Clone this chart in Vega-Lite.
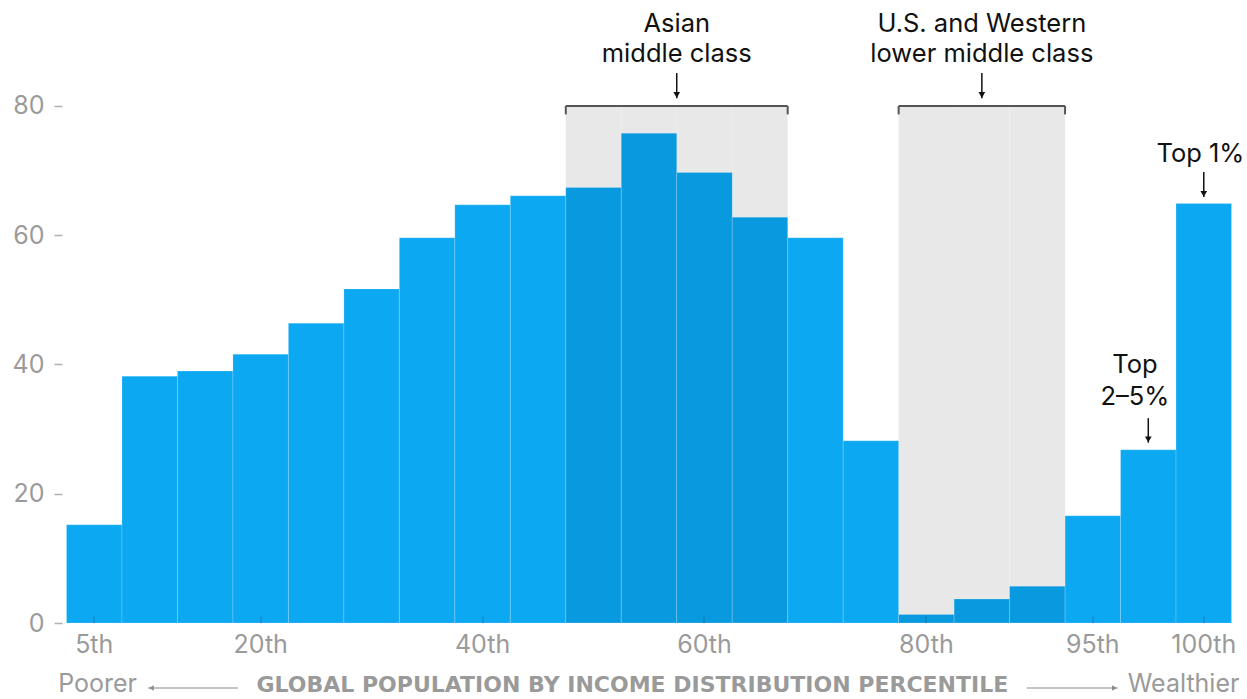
{
  "$schema": "https://vega.github.io/schema/vega-lite/v6.json",
  "width": 1165,
  "height": 623,
  "autosize": "none",
  "padding": {"left": 66.5, "top": 0, "right": 15.5, "bottom": 76},
  "config": {"view": {"stroke": null}, "font": "Inter"},
  "datasets": {
    "bars": [
      {"pct": "5", "share": 15.2, "group": "other"},
      {"pct": "10", "share": 38.2, "group": "other"},
      {"pct": "15", "share": 39.0, "group": "other"},
      {"pct": "20", "share": 41.6, "group": "other"},
      {"pct": "25", "share": 46.4, "group": "other"},
      {"pct": "30", "share": 51.7, "group": "other"},
      {"pct": "35", "share": 59.6, "group": "other"},
      {"pct": "40", "share": 64.7, "group": "other"},
      {"pct": "45", "share": 66.1, "group": "other"},
      {"pct": "50", "share": 67.4, "group": "asian"},
      {"pct": "55", "share": 75.8, "group": "asian"},
      {"pct": "60", "share": 69.7, "group": "asian"},
      {"pct": "65", "share": 62.8, "group": "asian"},
      {"pct": "70", "share": 59.6, "group": "other"},
      {"pct": "75", "share": 28.2, "group": "other"},
      {"pct": "80", "share": 1.3, "group": "western"},
      {"pct": "85", "share": 3.7, "group": "western"},
      {"pct": "90", "share": 5.7, "group": "western"},
      {"pct": "95", "share": 16.6, "group": "other"},
      {"pct": "99", "share": 26.8, "group": "other"},
      {"pct": "100", "share": 64.9, "group": "other"}
    ],
    "notes": [
      {"kind": "bracket", "p": 9.5, "p2": 13.5, "y": 80, "y2": 80},
      {"kind": "bracket", "p": 9.5, "p2": 9.5, "y": 80, "y2": 78.7},
      {"kind": "bracket", "p": 13.5, "p2": 13.5, "y": 80, "y2": 78.7},
      {"kind": "bracket", "p": 15.5, "p2": 18.5, "y": 80, "y2": 80},
      {"kind": "bracket", "p": 15.5, "p2": 15.5, "y": 80, "y2": 78.7},
      {"kind": "bracket", "p": 18.5, "p2": 18.5, "y": 80, "y2": 78.7},
      {"kind": "arrow", "p": 11.5, "p2": 11.5, "y": 85.1, "y2": 81.2},
      {"kind": "arrow", "p": 17, "p2": 17, "y": 85.1, "y2": 81.2},
      {"kind": "arrow", "p": 21, "p2": 21, "y": 69.8, "y2": 65.9},
      {"kind": "arrow", "p": 20, "p2": 20, "y": 31.7, "y2": 27.9},
      {"kind": "axisarrow", "p": 1.97, "p2": 3.59, "y": -10.06, "y2": -10.06},
      {"kind": "axisarrow", "p": 17.81, "p2": 19.45, "y": -10.06, "y2": -10.06},
      {"kind": "head", "dir": "down", "p": 11.5, "y": 81.7},
      {"kind": "head", "dir": "down", "p": 17, "y": 81.7},
      {"kind": "head", "dir": "down", "p": 21, "y": 66.4},
      {"kind": "head", "dir": "down", "p": 20, "y": 28.4},
      {"kind": "axishead", "dir": "left", "p": 2.03, "y": -10.06},
      {"kind": "axishead", "dir": "right", "p": 19.39, "y": -10.06},
      {"kind": "label", "p": 11.5, "y": 91.45, "text": "Asian"},
      {"kind": "label", "p": 11.5, "y": 86.8, "text": "middle class"},
      {"kind": "label", "p": 17, "y": 91.45, "text": "U.S. and Western"},
      {"kind": "label", "p": 17, "y": 86.8, "text": "lower middle class"},
      {"kind": "label", "p": 20.94, "y": 71.3, "text": "Top 1%"},
      {"kind": "label", "p": 19.76, "y": 38.7, "text": "Top"},
      {"kind": "label", "p": 19.76, "y": 33.7, "text": "2–5%"},
      {"kind": "side", "p": 0.35, "y": -10.75, "text": "Poorer"},
      {"kind": "side", "p": 19.63, "y": -10.75, "text": "Wealthier"},
      {"kind": "title", "p": 10.7, "y": -10.75, "text": "GLOBAL POPULATION BY INCOME DISTRIBUTION PERCENTILE"}
    ]
  },
  "layer": [
    {
      "data": {"name": "bars"},
      "encoding": {
        "x": {
          "field": "pct",
          "type": "ordinal",
          "sort": null,
          "scale": {
            "domain": ["5","10","15","20","25","30","35","40","45","50","55","60","65","70","75","80","85","90","95","99","100"],
            "paddingInner": 0,
            "paddingOuter": 0
          },
          "axis": {
            "values": ["5","20","40","60","80","95","100"],
            "labelExpr": "datum.label + 'th'",
            "labelAngle": 0,
            "domain": false,
            "tickSize": -7,
            "tickColor": "#1f4f70",
            "tickOpacity": 0.45,
            "tickWidth": 1,
            "labelPadding": 16,
            "labelFontSize": 25,
            "labelColor": "#9a9a9a",
            "labelFont": "Inter",
            "title": null,
            "zindex": 1
          }
        }
      },
      "layer": [
        {
          "transform": [{"filter": "datum.group != 'other'"}],
          "mark": {"type": "bar", "color": "#e8e8e8"},
          "encoding": {
            "y": {"datum": 80, "type": "quantitative"}
          }
        },
        {
          "mark": {"type": "bar", "stroke": "#ffffff", "strokeOpacity": 0.18, "strokeWidth": 1},
          "encoding": {
            "y": {
              "field": "share",
              "type": "quantitative",
              "scale": {"domain": [0, 96.4], "nice": false, "zero": false},
              "axis": {
                "values": [0, 20, 40, 60, 80],
                "domain": false,
                "grid": false,
                "tickColor": "#b0b0b0",
                "tickSize": 8,
                "tickWidth": 1.5,
                "offset": 4.5,
                "labelPadding": 10,
                "labelFontSize": 25,
                "labelColor": "#9a9a9a",
                "labelFont": "Inter",
                "title": null
              }
            },
            "color": {
              "field": "group",
              "type": "nominal",
              "scale": {"domain": ["other", "asian", "western"], "range": ["#0ca8f2", "#0899df", "#0899df"]},
              "legend": null
            }
          }
        }
      ]
    },
    {
      "data": {"name": "notes"},
      "encoding": {
        "x": {"field": "p", "type": "quantitative", "scale": {"domain": [0.5, 21.5], "nice": false, "zero": false}, "axis": null}
      },
      "layer": [
        {
          "transform": [{"filter": "datum.kind == 'bracket'"}],
          "mark": {"type": "rule", "color": "#555555", "strokeWidth": 2},
          "encoding": {
            "x2": {"field": "p2"},
            "y": {"field": "y", "type": "quantitative", "axis": {"title": null}},
            "y2": {"field": "y2"}
          }
        },
        {
          "transform": [{"filter": "datum.kind == 'arrow'"}],
          "mark": {"type": "rule", "color": "#111111", "strokeWidth": 1.5},
          "encoding": {
            "x2": {"field": "p2"},
            "y": {"field": "y", "type": "quantitative", "axis": {"title": null}},
            "y2": {"field": "y2"}
          }
        },
        {
          "transform": [{"filter": "datum.kind == 'axisarrow'"}],
          "mark": {"type": "rule", "color": "#8a8a8a", "strokeWidth": 1.2},
          "encoding": {
            "x2": {"field": "p2"},
            "y": {"field": "y", "type": "quantitative", "axis": {"title": null}},
            "y2": {"field": "y2"}
          }
        },
        {
          "transform": [{"filter": "datum.kind == 'head'"}],
          "mark": {"type": "point", "filled": true, "color": "#111111", "size": 45, "opacity": 1},
          "encoding": {
            "y": {"field": "y", "type": "quantitative", "axis": {"title": null}},
            "shape": {"field": "dir", "type": "nominal", "scale": {"domain": ["down", "left", "right"], "range": ["triangle-down", "triangle-left", "triangle-right"]}, "legend": null}
          }
        },
        {
          "transform": [{"filter": "datum.kind == 'axishead'"}],
          "mark": {"type": "point", "filled": true, "color": "#8a8a8a", "size": 30, "opacity": 1},
          "encoding": {
            "y": {"field": "y", "type": "quantitative", "axis": {"title": null}},
            "shape": {"field": "dir", "type": "nominal", "scale": {"domain": ["down", "left", "right"], "range": ["triangle-down", "triangle-left", "triangle-right"]}, "legend": null}
          }
        },
        {
          "transform": [{"filter": "datum.kind == 'label'"}],
          "mark": {"type": "text", "font": "Inter", "fontSize": 25.5, "color": "#111111", "align": "center", "baseline": "alphabetic"},
          "encoding": {
            "y": {"field": "y", "type": "quantitative", "axis": {"title": null}},
            "text": {"field": "text"}
          }
        },
        {
          "transform": [{"filter": "datum.kind == 'side'"}],
          "mark": {"type": "text", "font": "Inter", "fontSize": 25, "color": "#9a9a9a", "align": "left", "baseline": "alphabetic"},
          "encoding": {
            "y": {"field": "y", "type": "quantitative", "axis": {"title": null}},
            "text": {"field": "text"}
          }
        },
        {
          "transform": [{"filter": "datum.kind == 'title'"}],
          "mark": {"type": "text", "font": "DejaVu Sans", "fontSize": 22, "fontWeight": "bold", "color": "#9a9a9a", "align": "center", "baseline": "alphabetic"},
          "encoding": {
            "y": {"field": "y", "type": "quantitative", "axis": {"title": null}},
            "text": {"field": "text"}
          }
        }
      ]
    }
  ],
  "resolve": {"scale": {"x": "independent", "shape": "independent"}}
}
